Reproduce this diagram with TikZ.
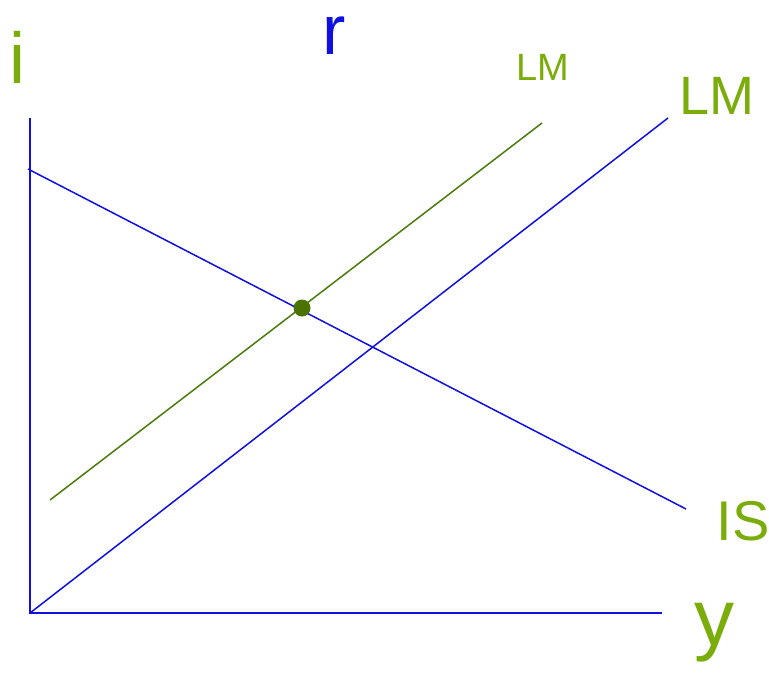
\documentclass[tikz,border=0pt]{standalone}
\usepackage{fontspec}
\setmainfont{Liberation Sans}
\usepackage{tikz}
\usetikzlibrary{positioning}
\definecolor{penblue}{HTML}{1010E0}
\definecolor{pengreen}{HTML}{7AAD0A}
\definecolor{olivegreen}{HTML}{4B7B0B}
\definecolor{dotgreen}{HTML}{4A7300}
\tikzset{
  axisline/.style={penblue,line width=1.6pt},
  curveblue/.style={penblue,line width=1.5pt},
  curvegreen/.style={olivegreen,line width=1.5pt},
  greenlbl/.style={pengreen,inner sep=0pt,font=\fontsize{38}{40}\selectfont},
  bluelbl/.style={penblue,inner sep=0pt,font=\fontsize{70}{72}\selectfont},
  eqdot/.style={circle,fill=dotgreen,minimum size=17pt,inner sep=0pt},
}

\begin{document}
\begin{tikzpicture}[x=1pt,y=-1pt]
  \useasboundingbox (0,0) rectangle (769,675);
  % axes
  \coordinate (o) at (30,613);
  \coordinate (ytop) at (30,118);
  \coordinate (xend) at (662,613);
  \draw[axisline] (ytop) -- (o) -- (xend);
  % curves
  \coordinate (isA) at (28,169);
  \coordinate (isB) at (686,509);
  \coordinate (lmB) at (668,118);
  \coordinate (lmgA) at (50,500);
  \coordinate (lmgB) at (542,123);
  \draw[curveblue] (isA) -- (isB);
  \draw[curveblue] (o) -- (lmB);
  \draw[curvegreen] (lmgA) -- (lmgB);
  \node[eqdot] (eq) at (302,308) {};
  % labels
  \node[greenlbl,font=\fontsize{72}{74}\selectfont] (li) at (17,57) {i};
  \node[bluelbl] (lr) at (334,36) {r};
  \node[greenlbl] (llm1) at (543,67) {LM};
  \node[greenlbl,font=\fontsize{54}{56}\selectfont] (llm2) at (717,96) {LM};
  \node[greenlbl,font=\fontsize{56}{58}\selectfont] (lis) at (743,521) {IS};
  \node[greenlbl,font=\fontsize{80}{82}\selectfont] (ly) at (714,633) {y};
\end{tikzpicture}
\end{document}
